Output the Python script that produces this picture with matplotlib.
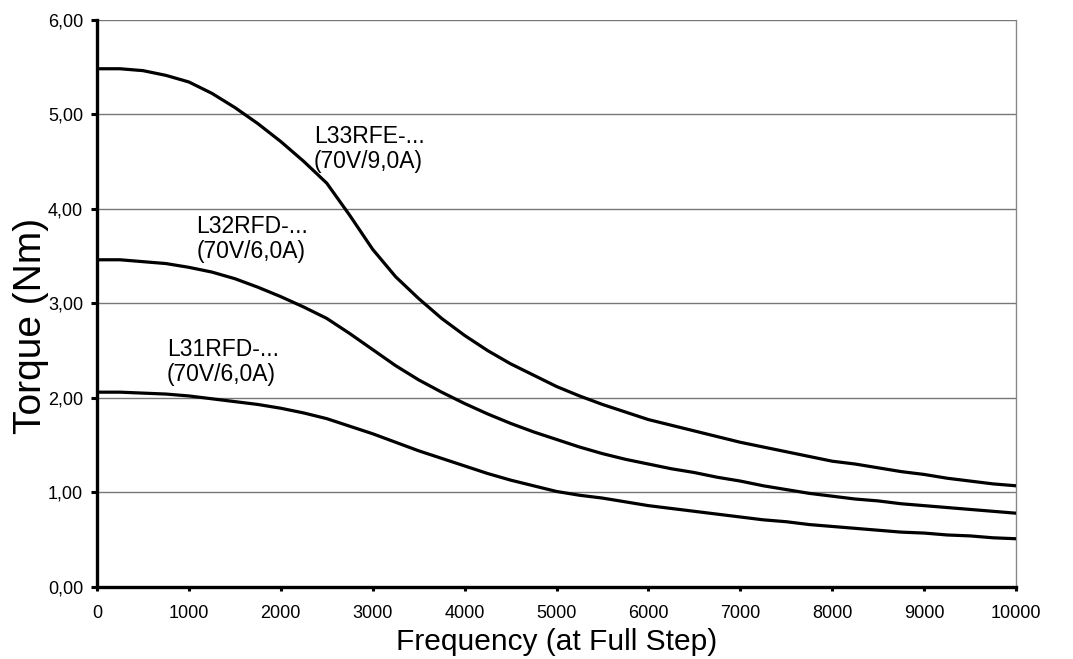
import matplotlib.pyplot as plt
from matplotlib.ticker import FuncFormatter

plt.rcParams['font.family'] = ['Liberation Sans', 'DejaVu Sans']

# frequency (full step) and torque values
freq = list(range(0, 10001, 250))
l33rfe = [5.48, 5.48, 5.46, 5.41, 5.34, 5.22, 5.07, 4.90, 4.71, 4.50, 4.27,
          3.93, 3.57, 3.28, 3.05, 2.84, 2.66, 2.50, 2.36, 2.24, 2.12,
          2.02, 1.93, 1.85, 1.77, 1.71, 1.65, 1.59, 1.53, 1.48, 1.43,
          1.38, 1.33, 1.30, 1.26, 1.22, 1.19, 1.15, 1.12, 1.09, 1.07]
l32rfd = [3.46, 3.46, 3.44, 3.42, 3.38, 3.33, 3.26, 3.17, 3.07, 2.96, 2.84,
          2.68, 2.51, 2.34, 2.19, 2.06, 1.94, 1.83, 1.73, 1.64, 1.56,
          1.48, 1.41, 1.35, 1.30, 1.25, 1.21, 1.16, 1.12, 1.07, 1.03,
          0.99, 0.96, 0.93, 0.91, 0.88, 0.86, 0.84, 0.82, 0.80, 0.78]
l31rfd = [2.06, 2.06, 2.05, 2.04, 2.02, 1.99, 1.96, 1.93, 1.89, 1.84, 1.78,
          1.70, 1.62, 1.53, 1.44, 1.36, 1.28, 1.20, 1.13, 1.07, 1.01,
          0.97, 0.94, 0.90, 0.86, 0.83, 0.80, 0.77, 0.74, 0.71, 0.69,
          0.66, 0.64, 0.62, 0.60, 0.58, 0.57, 0.55, 0.54, 0.52, 0.51]

labels = ["L33RFE-...\n(70V/9,0A)", "L32RFD-...\n(70V/6,0A)", "L31RFD-...\n(70V/6,0A)"]
label_pos = [(2360, 4.88), (1080, 3.93), (760, 2.63)]

xticks = list(range(0, 10001, 1000))
yticks = [0, 1, 2, 3, 4, 5, 6]

fig = plt.figure(figsize=(10.73, 6.59), dpi=100)
ax = fig.add_axes([0.0904, 0.1093, 0.8565, 0.861])

for yv in yticks[1:]:
    ax.axhline(yv, color='#777777', lw=1.0, zorder=1)

for series in (l33rfe, l32rfd, l31rfd):
    ax.plot(freq, series, color='black', lw=2.3, zorder=3)

for text, (tx, ty) in zip(labels, label_pos):
    ax.text(tx, ty, text, fontsize=16.5, va='top', ha='left', linespacing=1.1)

ax.set_xlim(0, 10000)
ax.set_ylim(0, 6)
ax.set_xticks(xticks)
ax.set_yticks(yticks)
ax.yaxis.set_major_formatter(FuncFormatter(lambda v, p: f"{v:.2f}".replace('.', ',')))
ax.tick_params(axis='x', direction='out', length=3, width=2.2, labelsize=13, pad=10)
ax.tick_params(axis='y', direction='out', length=4, width=2.2, labelsize=13, pad=6)

for side in ('left', 'bottom'):
    ax.spines[side].set_linewidth(2.4)
    ax.spines[side].set_color('black')
ax.spines['right'].set_linewidth(1.0)
ax.spines['right'].set_color('#888888')
ax.spines['top'].set_visible(False)

ax.set_xlabel("Frequency (at Full Step)", fontsize=21.5, labelpad=4)
ax.set_ylabel("Torque (Nm)", fontsize=28)
ax.yaxis.set_label_coords(-0.052, 0.46)

plt.savefig("out.png", dpi=100)
